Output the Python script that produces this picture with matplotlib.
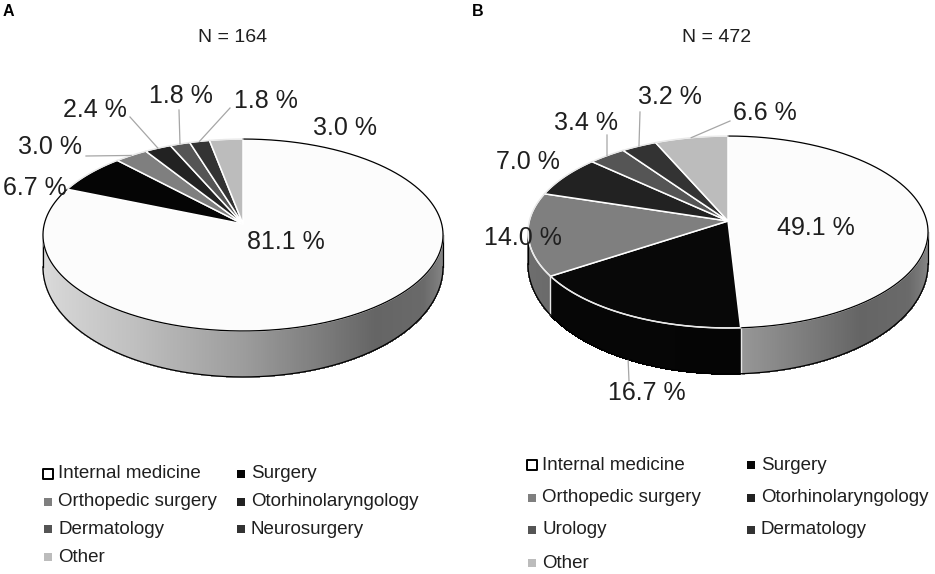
import numpy as np
import matplotlib
matplotlib.use("Agg")
import matplotlib.pyplot as plt
from matplotlib.patches import Polygon
from matplotlib.collections import PolyCollection
from matplotlib.colors import to_rgb

plt.rcParams['font.family'] = ['Liberation Sans', 'DejaVu Sans']

# ---------------- data ----------------
titles = ["N = 164", "N = 472"]
panel_letters = ["A", "B"]

cats_a = ["Internal medicine", "Surgery", "Orthopedic surgery", "Otorhinolaryngology",
          "Dermatology", "Neurosurgery", "Other"]
vals_a = [81.1, 6.7, 3.0, 2.4, 1.8, 1.8, 3.0]

cats_b = ["Internal medicine", "Surgery", "Orthopedic surgery", "Otorhinolaryngology",
          "Urology", "Dermatology", "Other"]
vals_b = [49.1, 16.7, 14.0, 7.0, 3.4, 3.2, 6.6]

colors_a = ['#fcfcfc', '#050505', '#7f7f7f', '#222222', '#555555', '#333333', '#bcbcbc']
colors_b = ['#fcfcfc', '#080808', '#7f7f7f', '#222222', '#555555', '#333333', '#bcbcbc']

# ---------------- layout (pixels) ----------------
W, H = 935, 574
fig = plt.figure(figsize=(W / 100, H / 100), dpi=100)
ax = fig.add_axes([0, 0, 1, 1])
ax.set_xlim(0, W)
ax.set_ylim(H, 0)
ax.axis('off')

RA, RB, PP = 198.7, 94.7, -0.1146   # ellipse half axes + perspective
D0, D1 = 30.0, 16.0                  # wall depth at sides / extra at front
TXT = '#1f1f1f'

panels = [
    dict(cats=cats_a, vals=vals_a, cols=colors_a, u0=243, v0=224, title_xy=(233, 37),
         letter_xy=(3, 12),
         label_xy=[(286, 242), (35, 188), (50, 147), (95, 110), (181, 96), (266, 101), (345, 128)],
         leader=[None, None, (86, 156), (130, 117), (179, 110), (230, 108), None],
         leg_x=(48, 241), leg_y=(474, 502, 529, 557)),
    dict(cats=cats_b, vals=vals_b, cols=colors_b, u0=728, v0=221, title_xy=(717, 37),
         letter_xy=(472, 12),
         label_xy=[(816, 228), (647, 393), (523, 238), (528, 162), (586, 123), (670, 97), (765, 113)],
         leader=[None, (629, 381), None, None, (607, 135), (640, 112), (730, 121)],
         leg_x=(532, 751), leg_y=(465, 498, 530, 563)),
]


def top_pt(th, u0, v0):
    w = 1 + PP * np.sin(th)
    return u0 + RA * np.cos(th) / w, v0 + RB * np.sin(th) / w


def depth(th):
    return D0 + D1 * np.clip(np.sin(th), 0, None)


def shade(c):
    return np.interp(c, [-1, -0.5, 0, 0.6, 0.85, 1], [0.87, 0.76, 0.62, 0.40, 0.42, 0.55])


for pi_, p in enumerate(panels):
    vals = np.array(p['vals'], dtype=float)
    frac = vals / vals.sum()
    cum = np.concatenate([[0], np.cumsum(frac)])
    th_bounds = -np.pi / 2 + 2 * np.pi * cum
    u0, v0 = p['u0'], p['v0']

    # ---- side walls (front half) ----
    thR = np.arcsin(-PP)
    thL = np.pi - thR
    ths = np.linspace(thR, thL, 600)
    polys, fcs = [], []
    for t1, t2 in zip(ths[:-1], ths[1:]):
        x1, y1 = top_pt(t1, u0, v0)
        x2, y2 = top_pt(t2, u0, v0)
        tm = 0.5 * (t1 + t2)
        f = ((tm + np.pi / 2) / (2 * np.pi)) % 1.0
        k = min(np.searchsorted(cum, f, side='right') - 1, len(vals) - 1)
        base = np.array(to_rgb(p['cols'][k]))
        col = np.clip(base * shade(np.cos(tm)), 0, 1)
        polys.append([(x1, y1 - 1), (x2, y2 - 1), (x2, y2 + depth(t2)), (x1, y1 + depth(t1))])
        fcs.append(col)
    ax.add_collection(PolyCollection(polys, facecolors=fcs, edgecolors=fcs, linewidths=0.6,
                                     antialiased=False, zorder=1))

    # wall boundary lines between slices
    for tb in th_bounds[1:-1]:
        tt = (tb + np.pi) % (2 * np.pi) - np.pi
        if thR < tt < thL:
            x, y = top_pt(tt, u0, v0)
            ax.plot([x, x], [y, y + depth(tt)], color='#e6e6e6', lw=1.0, zorder=2)

    # outline of wall
    bx, by = top_pt(ths, u0, v0)
    ax.plot(bx, by + depth(ths), color='black', lw=0.9, zorder=2)
    for te in (thR, thL):
        x, y = top_pt(te, u0, v0)
        ax.plot([x, x], [y, y + depth(te)], color='black', lw=0.9, zorder=2)

    # ---- top faces ----
    for i in range(len(vals)):
        tt = np.linspace(th_bounds[i], th_bounds[i + 1], max(int(frac[i] * 720), 4))
        ex, ey = top_pt(tt, u0, v0)
        pts = [(u0, v0)] + list(zip(ex, ey))
        ax.add_patch(Polygon(pts, closed=True, facecolor=p['cols'][i], edgecolor='white',
                             lw=1.1, joinstyle='round', zorder=3))
    for i in range(len(vals)):
        tt = np.linspace(th_bounds[i], th_bounds[i + 1], max(int(frac[i] * 720), 4))
        ex, ey = top_pt(tt, u0, v0)
        ax.plot(ex, ey, color='black' if i == 0 else '#e8e8e8', lw=0.9, zorder=4)

    # ---- labels & leaders ----
    for i, v in enumerate(vals):
        lx, ly = p['label_xy'][i]
        ax.text(lx, ly, f"{v:.1f} %", fontsize=18, color=TXT, ha='center', va='center', zorder=6)
        st = p['leader'][i]
        if st is not None:
            tm = 0.5 * (th_bounds[i] + th_bounds[i + 1])
            ex, ey = top_pt(tm, u0, v0)
            if np.sin(tm) > 0.3:
                ey = ey + depth(tm) + 1
            ax.plot([st[0], ex], [st[1], ey], color='#a6a6a6', lw=0.9, zorder=5)

    # ---- titles ----
    ax.text(*p['title_xy'], titles[pi_], fontsize=14, color=TXT, ha='center', va='center')
    ax.text(*p['letter_xy'], panel_letters[pi_], fontsize=11.5, fontweight='bold',
            color='black', ha='left', va='center')

    # ---- legend (row-wise, 2 columns) ----
    for i, name in enumerate(p['cats']):
        r, c = divmod(i, 2)
        bx0 = p['leg_x'][c]
        by0 = p['leg_y'][r]
        if i == 0:
            ax.scatter([bx0], [by0], marker='s', s=42, facecolor='white', edgecolor='black',
                       linewidths=1.4, zorder=6)
        else:
            ax.scatter([bx0], [by0], marker='s', s=30, facecolor=p['cols'][i], edgecolor='none',
                       zorder=6)
        ax.text(bx0 + 10, by0, name, fontsize=13.5, color=TXT, ha='left', va='center')

fig.savefig("out.png", dpi=100)
